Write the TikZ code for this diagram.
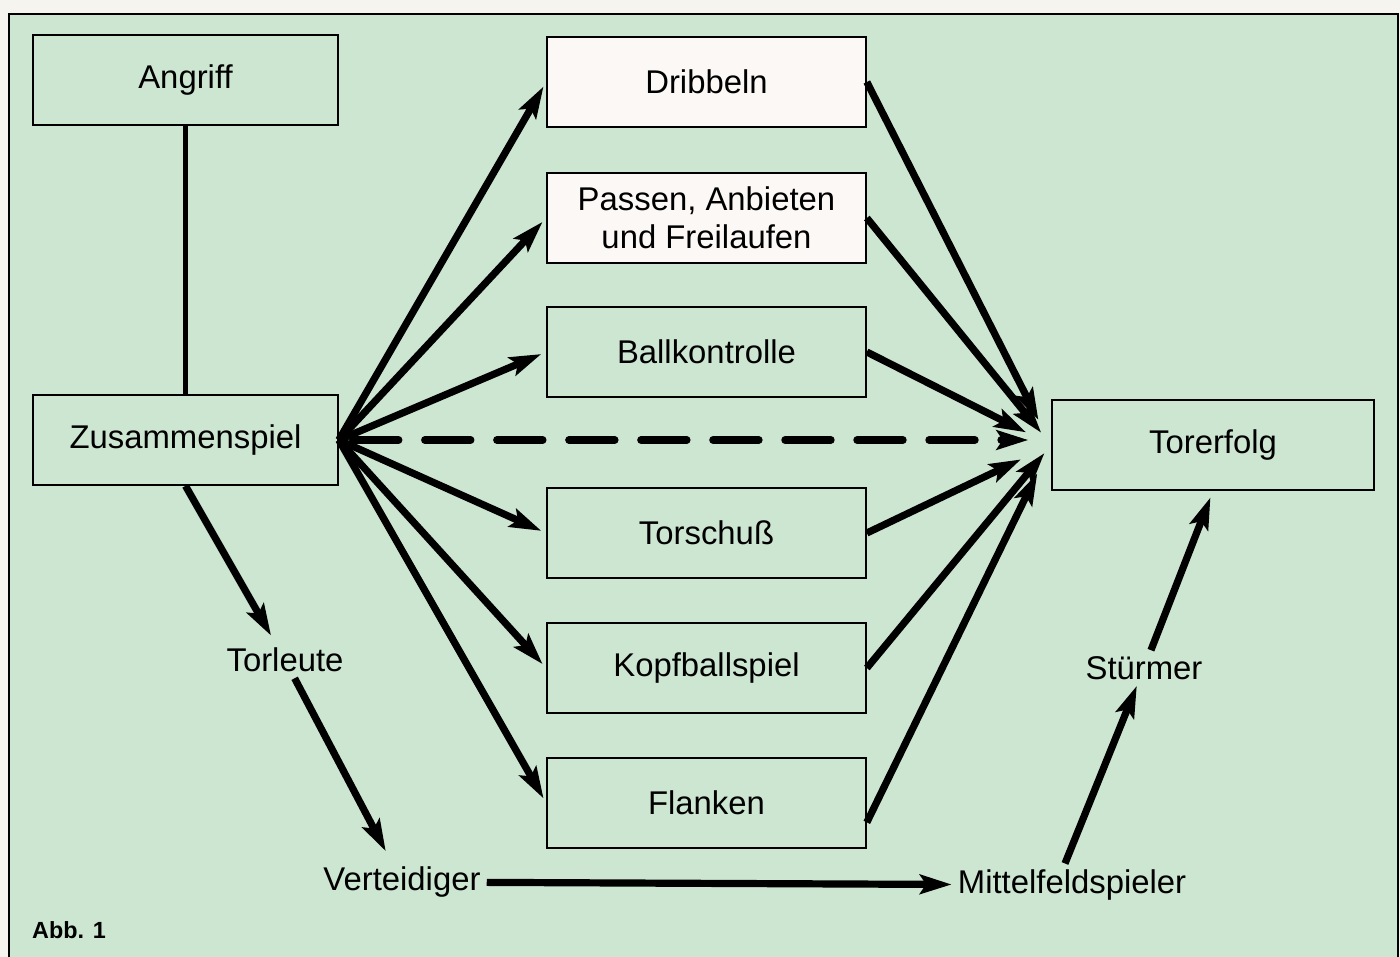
\documentclass[tikz,border=0pt]{standalone}
\usepackage{fontspec}
\setmainfont{Liberation Sans}
\usetikzlibrary{arrows.meta, positioning, calc}

\definecolor{paper}{RGB}{246,244,238}
\definecolor{mint}{RGB}{204,230,209}
\definecolor{boxwhite}{RGB}{252,248,245}

\begin{document}
\begin{tikzpicture}[x=0.02cm, y=-0.02cm]
    % --- Style Definitions ---
    \tikzset{
        % Framed boxes on the left and right
        field box/.style={
            draw=black,
            line width=1pt,
            minimum width=6.1cm,
            minimum height=1.8cm,
            font=\fontsize{18.7}{21.5}\selectfont
        },
        % The six skill boxes in the middle
        skill box/.style={
            field box,
            minimum width=6.38cm,
            align=center
        },
        % Plain player labels
        player/.style={
            font=\fontsize{18.7}{21.5}\selectfont
        },
        caption text/.style={
            font=\fontsize{13.3}{16}\selectfont\bfseries
        },
        % Arrow styling
        flow arrow/.style={
            -{Stealth[length=18pt, width=11pt, inset=3.5pt]},
            line width=4.1pt,
            black
        },
        plain link/.style={
            line width=3.2pt,
            black
        }
    }

    \useasboundingbox (0,0) rectangle (1400,957);

    % --- 1. Paper and frame ---
    \fill[paper] (0,0) rectangle (1400,957);
    \draw[fill=mint, line width=1.2pt] (9,14) rectangle (1398,962);

    % --- 2. Boxes ---
    \node[field box] (angriff) at (185.5,80) {Angriff};
    \node[field box] (zus) at (185.5,440) {Zusammenspiel};

    \node[skill box, fill=boxwhite] (dribbeln) at (706.5,82) {Dribbeln};
    \node[skill box, fill=boxwhite] (passen) at (706.5,218) {Passen, Anbieten\\und Freilaufen};
    \node[skill box] (ballkontrolle) at (706.5,352) {Ballkontrolle};
    \node[skill box] (torschuss) at (706.5,533) {Torschuß};
    \node[skill box] (kopfball) at (706.5,668) {Kopfballspiel};
    \node[skill box] (flanken) at (706.5,803) {Flanken};

    \node[field box, minimum width=6.44cm] (torerfolg) at (1213,445) {Torerfolg};

    % lower exit of the Flanken box
    \coordinate (flanken out) at ([yshift=-11pt]flanken.east);

    % --- 3. Players ---
    \node[player] (torleute) at (285,660) {Torleute};
    \node[player] (verteidiger) at (402,882) {Verteidiger};
    \node[player] (mittelfeld) at (1072,885) {Mittelfeldspieler};
    \node[player] (stuermer) at (1144,668) {Stürmer};

    \node[caption text] (abb) at (69,930) {Abb. 1};

    % --- 4. Connectors ---
    \draw[plain link] (angriff.south) -- (zus.north);

    % fan out of Zusammenspiel
    \foreach \target in {dribbeln, passen, ballkontrolle, torschuss, kopfball, flanken}
        \draw[flow arrow, shorten >=3pt] (zus.east) -- (\target.west);

    % dashed shortcut
    \draw[flow arrow, line width=4.4pt, line cap=round,
          dash pattern=on 26pt off 15pt, dash phase=33pt, shorten >=13pt]
        (zus.east) -- (zus.east -| torerfolg.west);

    % fan into Torerfolg
    \foreach \source/\gap in {dribbeln.east/16pt, passen.east/9pt,
            ballkontrolle.east/16pt, torschuss.east/19pt,
            kopfball.east/6pt, flanken out/18pt}
        \draw[flow arrow, shorten >=\gap] (\source) -- (torerfolg.west);

    % team line
    \draw[flow arrow, shorten >=4pt] (zus.south) -- (torleute);
    \draw[flow arrow, shorten >=6pt] (torleute) -- (verteidiger);
    \draw[flow arrow] (verteidiger) -- (mittelfeld);
    \draw[flow arrow] ([xshift=-4pt]mittelfeld.north) -- (stuermer);
    \draw[flow arrow, shorten >=4pt] (stuermer) -- (torerfolg.south);

\end{tikzpicture}
\end{document}
